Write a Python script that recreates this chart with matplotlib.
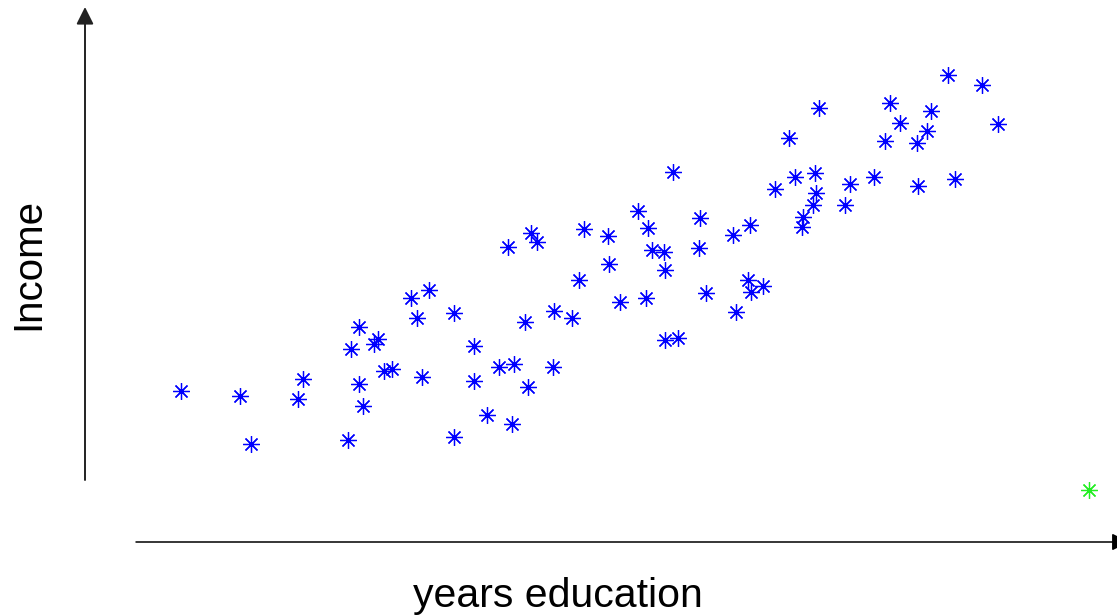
import numpy as np
import matplotlib.pyplot as plt

plt.rcParams['font.family'] = ['Liberation Sans', 'DejaVu Sans']

# values (arbitrary units)
education = [181, 240, 251, 298, 303, 348, 351, 359, 359, 363, 374, 378, 384, 392,
             411, 417, 422, 429, 454, 454, 474, 474, 487, 499, 508, 512, 514, 525,
             528, 531, 537, 553, 554, 572, 579, 584, 608, 609, 620, 638, 646, 648,
             652, 664, 665, 665, 673, 678, 699, 700, 706, 733, 736, 748, 750, 751,
             763, 775, 789, 795, 802, 803, 813, 815, 816, 819, 845, 850, 874, 885,
             890, 900, 917, 918, 927, 931, 948, 955, 982, 998]
income_px = [391, 396, 444, 399, 379, 440, 349, 327, 384, 406, 344, 339, 371, 369,
             298, 318, 377, 290, 313, 437, 346, 381, 415, 367, 247, 424, 364, 322,
             387, 233, 242, 367, 311, 318, 280, 229, 236, 264, 302, 211, 298, 228,
             250, 252, 270, 340, 172, 338, 248, 218, 293, 235, 312, 280, 225, 292,
             286, 189, 138, 177, 227, 217, 205, 173, 193, 108, 205, 184, 177, 141,
             103, 123, 143, 186, 131, 111, 75, 179, 85, 124]
income = [615 - v for v in income_px]

new_education = [1089]
new_income = [615 - 490]

fig = plt.figure(figsize=(11.17, 6.15), dpi=100)
ax = fig.add_axes([0, 0, 1, 1])
ax.set_xlim(0, 1117)
ax.set_ylim(0, 615)
ax.axis('off')

star = (8, 2, 0)
ax.plot(education, income, linestyle='none', marker=star, markersize=12,
        markeredgewidth=0.9, color='#0000ff')
ax.plot(new_education, new_income, linestyle='none', marker=star, markersize=12,
        markeredgewidth=0.9, color='#22ee22')

# arrows for the axes
ax.annotate('', xy=(85, 608), xytext=(85, 135), annotation_clip=False,
            arrowprops=dict(arrowstyle='-|>', color='#222222', lw=1.4,
                            mutation_scale=26, shrinkA=0, shrinkB=0))
ax.annotate('', xy=(1129, 73), xytext=(136, 73), annotation_clip=False,
            arrowprops=dict(arrowstyle='-|>', color='black', lw=1.1,
                            mutation_scale=26, shrinkA=0, shrinkB=0))

ax.text(28, 615 - 264, 'Income', rotation=90, fontsize=29, ha='center', va='center')
ax.text(558, 615 - 596, 'years education', fontsize=29.5, ha='center', va='center')

fig.savefig('out.png', dpi=100)
